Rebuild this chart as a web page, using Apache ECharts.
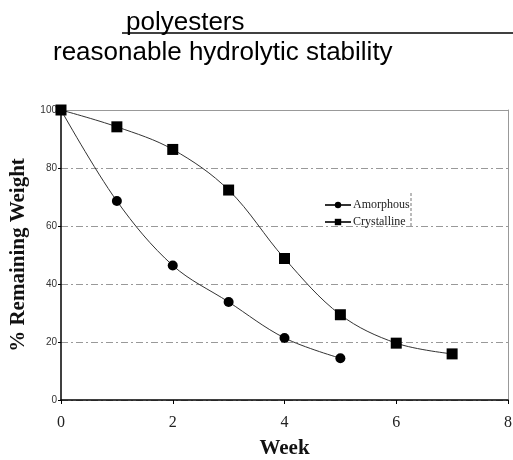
<!DOCTYPE html>
<html>
<head>
<meta charset="UTF-8"/>
<title></title>
<script src="https://cdn.jsdelivr.net/npm/echarts@6/dist/echarts.min.js"></script>
<style>
  html, body { margin: 0; padding: 0; background: #fff; }
  #placeholder { width: 513px; height: 460px; }
</style>
</head>
<body>
<div id="placeholder"></div>
<script type="text/javascript">
// values
var weeks = [0, 1, 2, 3, 4, 5, 6, 7];
var amorphous = [100, 68.6, 46.4, 33.8, 21.4, 14.4];
var crystalline = [100, 94.2, 86.4, 72.4, 48.8, 29.4, 19.6, 15.9];
var xTicks = [0, 2, 4, 6, 8];
var yTicks = [0, 20, 40, 60, 80, 100];

function pairs(vals) {
  var out = [];
  for (var i = 0; i < vals.length; i++) out.push([weeks[i], vals[i]]);
  return out;
}

var myChart = echarts.init(document.getElementById('placeholder'));
var option = {
  animation: false,
  title: [{
    text: 'polyesters',
    left: 121, top: 5,
    textStyle: { fontFamily: 'Liberation Sans', fontSize: 26, fontWeight: 'normal', color: '#000' }
  }, {
    text: 'reasonable hydrolytic stability',
    left: 48, top: 35,
    textStyle: { fontFamily: 'Liberation Sans', fontSize: 26, fontWeight: 'normal', color: '#000' }
  }],
  graphic: [
    // underline of the heading, runs to the page edge
    { type: 'line', shape: { x1: 122, y1: 33, x2: 513, y2: 33 }, style: { stroke: '#000', lineWidth: 1.5 } },
    // dashed edge on the right of the legend box
    { type: 'line', shape: { x1: 411, y1: 193, x2: 411, y2: 228 }, style: { stroke: '#777', lineWidth: 1, lineDash: [3, 2] } }
  ],
  legend: {
    orient: 'vertical',
    left: 319, top: 194,
    itemWidth: 26, itemHeight: 8, itemGap: 5,
    textStyle: { fontFamily: 'Liberation Serif', fontSize: 12, color: '#222', padding: [0, 0, 0, -3] },
    data: ['Amorphous', 'Crystalline']
  },
  grid: { left: 61, right: 5, top: 110, bottom: 60, containLabel: false, outerBoundsMode: 'none' },
  xAxis: [{
    type: 'value', min: 0, max: 8, interval: 2,
    name: 'Week', nameLocation: 'middle', nameGap: 38,
    nameTextStyle: { fontFamily: 'Liberation Serif', fontSize: 21, fontWeight: 'bold', color: '#111' },
    axisLine: { lineStyle: { color: '#000', width: 1.5 } },
    axisTick: { length: 4, lineStyle: { color: '#000' } },
    axisLabel: {
      fontFamily: 'Liberation Serif', fontSize: 16, color: '#222', margin: 15,
      formatter: function (v) { return xTicks.indexOf(v) >= 0 ? String(v) : ''; }
    },
    splitLine: { show: false }
  }, {
    type: 'value', min: 0, max: 8, position: 'top',
    axisLine: { onZero: false, lineStyle: { color: '#999', width: 1 } },
    axisTick: { show: false }, axisLabel: { show: false }, splitLine: { show: false }
  }],
  yAxis: [{
    type: 'value', min: 0, max: 100, interval: 20,
    name: '% Remaining Weight', nameLocation: 'middle', nameGap: 29,
    nameTextStyle: { fontFamily: 'Liberation Serif', fontSize: 21, fontWeight: 'bold', color: '#111' },
    axisLine: { show: true, lineStyle: { color: '#000', width: 1.5 } },
    axisTick: { show: true, length: 3, lineStyle: { color: '#000' } },
    axisLabel: {
      fontFamily: 'Liberation Sans', fontSize: 10, color: '#333', margin: 4,
      formatter: function (v) { return yTicks.indexOf(v) >= 0 ? String(v) : ''; }
    },
    splitLine: { show: true, lineStyle: { color: '#999', width: 1, type: [7, 3, 2, 3] } }
  }, {
    type: 'value', min: 0, max: 100, position: 'right',
    axisLine: { show: true, onZero: false, lineStyle: { color: '#999', width: 1 } },
    axisTick: { show: false }, axisLabel: { show: false }, splitLine: { show: false }
  }],
  series: [{
    name: 'Amorphous', type: 'line', smooth: 0.35,
    data: pairs(amorphous),
    symbol: 'circle', symbolSize: 10,
    itemStyle: { color: '#000' },
    lineStyle: { color: '#333', width: 1 }
  }, {
    name: 'Crystalline', type: 'line', smooth: 0.35,
    data: pairs(crystalline),
    symbol: 'rect', symbolSize: 11,
    itemStyle: { color: '#000' },
    lineStyle: { color: '#333', width: 1 }
  }]
};
myChart.setOption(option, true);
</script>
</body>
</html>
